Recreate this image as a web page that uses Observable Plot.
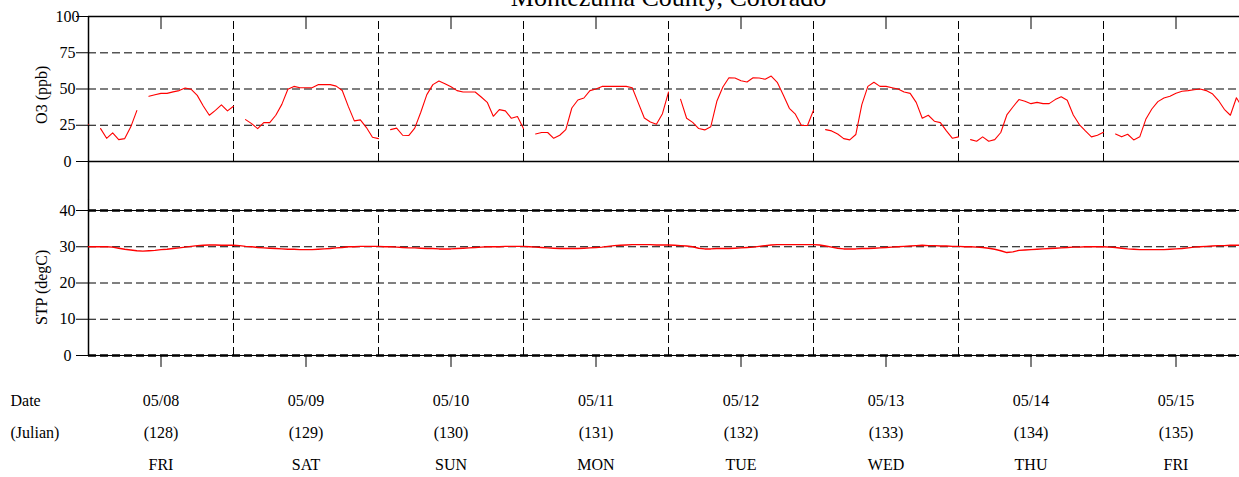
<!DOCTYPE html>
<html><head><meta charset="utf-8">
<script src="https://cdn.jsdelivr.net/npm/d3@7"></script>
<script src="https://cdn.jsdelivr.net/npm/@observablehq/plot@0.6"></script>
<style>
html,body{margin:0;padding:0;background:#fff;overflow:hidden;}
#chart{position:relative;width:1248px;height:477px;overflow:hidden;}
#p1,#p2{position:absolute;left:0;width:1248px;}
#p1{top:0;} #p2{top:200px;}
#chart svg{display:block;}
</style></head><body><div id="chart"><div id="p1"></div><div id="p2"></div></div>
<script>
const title = "Montezuma County, Colorado";
const dates = ["05/08","05/09","05/10","05/11","05/12","05/13","05/14","05/15"];
const julian = ["(128)","(129)","(130)","(131)","(132)","(133)","(134)","(135)"];
const weekdays = ["FRI","SAT","SUN","MON","TUE","WED","THU","FRI"];
const o3Ticks = [0,25,50,75,100];
const stpTicks = [0,10,20,30,40];

// hourly O3 (ppb), hour 0..23, null = missing
const o3_0508 = [25.7,null,22.7,16,19.7,15.1,15.8,23.9,35.1,null,45,46,47,47,48,48.9,50.7,49.8,45.6,38.3,31.9,35.3,39,34.9];
const o3_0509 = [38.1,null,28.9,26.1,22.7,26.8,26.8,31.9,39.4,49.8,51.8,50.9,50.9,50.9,53,53,53,52,49,38,28,28.7,23.4,16.7];
const o3_0510 = [15.8,null,22,23,18.1,17.9,23,34,46.1,53,55.5,53.7,51.6,48.9,47.9,47.9,47.9,44.5,40.8,31.2,35.8,34.9,29.8,31];
const o3_0511 = [22.7,null,19,20,20,16,18.1,22,36.9,42.4,43.8,48.9,50,51.8,51.8,51.8,51.8,51.8,50.9,40.4,30,27.3,25.7,33];
const o3_0512 = [47.9,null,42.9,29.8,27,22.7,21.8,24,41.5,51.4,57.8,57.6,55.7,54.8,57.8,57.6,56.7,58.9,54.6,45.9,36.7,32.6,24.8,24.8];
const o3_0513 = [35.3,null,22,21.1,19,15.8,14.9,18.6,39.2,51.8,54.6,51.8,51.8,50.9,50,47.9,47,40.8,29.8,31.9,27.8,26.8,21.1,16];
const o3_0514 = [17,null,15.1,14,17,14,15.1,20,32.1,37.6,42.7,41.5,39.9,40.8,39.9,39.9,42.7,44.7,42.2,32.1,25.5,21.1,17,18.1];
const o3_0515 = [20.2,null,19,17,18.8,14.9,17,29.1,36.2,41.3,43.8,45,47,48.4,48.9,49.5,50,48.9,46.8,42.2,36,31.9,44,37];

// hourly STP (degC)
const stp_0508 = [30,30,30,30,29.9,29.6,29.3,29.1,28.9,28.8,28.9,29,29.2,29.3,29.5,29.7,29.9,30.1,30.3,30.4,30.5,30.5,30.4,30.4];
const stp_0509 = [30.4,30.3,30.1,30,29.8,29.7,29.6,29.5,29.4,29.3,29.3,29.2,29.2,29.2,29.3,29.4,29.5,29.7,29.8,30,30,30.1,30.1,30.1];
const stp_0510 = [30.1,30,30,29.9,29.8,29.7,29.7,29.6,29.5,29.5,29.4,29.4,29.4,29.5,29.6,29.7,29.8,29.9,30,30,30,30.1,30.1,30.1];
const stp_0511 = [30.1,30,29.9,29.8,29.7,29.6,29.5,29.5,29.5,29.5,29.6,29.7,29.8,29.9,30.1,30.3,30.4,30.5,30.6,30.6,30.6,30.6,30.5,30.5];
const stp_0512 = [30.5,30.4,30.3,30.2,30,29.6,29.4,29.4,29.5,29.5,29.5,29.6,29.7,29.8,29.9,30.1,30.3,30.5,30.6,30.6,30.6,30.6,30.6,30.6];
const stp_0513 = [30.6,30.5,30.2,29.9,29.6,29.4,29.4,29.4,29.5,29.5,29.6,29.7,29.8,29.9,30,30.1,30.2,30.3,30.4,30.3,30.3,30.2,30.2,30.1];
const stp_0514 = [30.1,30,30,29.9,29.8,29.6,29.3,28.9,28.4,28.6,29,29.1,29.2,29.3,29.4,29.5,29.6,29.7,29.8,29.9,29.9,30,30,30];
const stp_0515 = [30,29.9,29.8,29.6,29.4,29.3,29.2,29.2,29.2,29.2,29.2,29.3,29.4,29.5,29.7,29.9,30,30.1,30.2,30.3,30.3,30.4,30.4,30.4];

const o3Days = [o3_0508,o3_0509,o3_0510,o3_0511,o3_0512,o3_0513,o3_0514,o3_0515];
const stpDays = [stp_0508,stp_0509,stp_0510,stp_0511,stp_0512,stp_0513,stp_0514,stp_0515];

function hourly(days){
  const out=[];
  days.forEach((arr,d)=>arr.forEach((v,h)=>out.push({t:d+h/24, v})));
  return out;
}
const dayIdx = d3.range(8);
const bounds = d3.range(1,8);
const noons = dayIdx.map(d=>d+0.5);
const font = "'Liberation Serif','Times New Roman',serif";
const style = {fontFamily: font, fontSize: "16px", background: "white", color: "black", overflow: "visible"};
const dash = "8,4";

const p1 = Plot.plot({
  width: 1248, height: 200, marginLeft: 88, marginRight: 0, marginTop: 16, marginBottom: 39,
  style,
  x: {domain: [0,8], axis: null},
  y: {domain: [0,100], axis: null},
  marks: [
    Plot.ruleY([50,75], {stroke: "#555", strokeWidth: 1.5, strokeDasharray: dash}),
    Plot.ruleY([25], {stroke: "black", strokeWidth: 1, strokeDasharray: dash}),
    Plot.ruleX(bounds, {y1: 0, y2: 100, stroke: "black", strokeWidth: 1, strokeDasharray: dash}),
    Plot.ruleY([0,100], {stroke: "black", strokeWidth: 1.5}),
    Plot.ruleX([0], {y1: 100, y2: -27, stroke: "black", strokeWidth: 1.5}),
    Plot.ruleX(noons, {y1: 100, y2: 91, stroke: "black", strokeWidth: 1}),
    Plot.axisY({ticks: o3Ticks, tickSize: 12, tickPadding: 9, textAnchor: "middle", label: null, fontSize: 16, stroke: "black"}),
    Plot.line(hourly(o3Days), {x: "t", y: "v", stroke: "#ff0000", strokeWidth: 1.1}),
    Plot.text(["O3 (ppb)"], {x: -0.324, y: 46, text: d=>d, rotate: -90, fontSize: 16}),
    Plot.text([title], {frameAnchor: "top", dy: -11, lineAnchor: "bottom", text: d=>d, fontSize: 26})
  ]
});
document.getElementById("p1").append(p1);

const p2 = Plot.plot({
  width: 1248, height: 277, marginLeft: 88, marginRight: 0, marginTop: 10, marginBottom: 122,
  style,
  x: {domain: [0,8], axis: null},
  y: {domain: [0,40], axis: null},
  marks: [
    Plot.ruleY([10,20,30], {stroke: "black", strokeWidth: 1, strokeDasharray: dash}),
    Plot.ruleX(bounds, {y1: 0, y2: 40, stroke: "black", strokeWidth: 1, strokeDasharray: dash}),
    Plot.ruleY([0,40], {stroke: "black", strokeWidth: 1}),
    Plot.ruleY([0,40], {stroke: "black", strokeWidth: 2.5, strokeDasharray: dash}),
    Plot.ruleX([0], {y1: 0, y2: 42.8, stroke: "black", strokeWidth: 1.5}),
    Plot.ruleX(noons, {y1: 0, y2: -3.3, stroke: "black", strokeWidth: 1}),
    Plot.axisY({ticks: stpTicks, tickSize: 12, tickPadding: 9, textAnchor: "middle", label: null, fontSize: 16, stroke: "black"}),
    Plot.line(hourly(stpDays), {x: "t", y: "v", stroke: "#ff0000", strokeWidth: 1.4}),
    Plot.text(["STP (degC)"], {x: -0.324, y: 18.8, text: d=>d, rotate: -90, fontSize: 16}),
    Plot.text(dayIdx, {x: d=>d+0.5, frameAnchor: "bottom", dy: 50, lineAnchor: "bottom", text: d=>dates[d], fontSize: 16}),
    Plot.text(dayIdx, {x: d=>d+0.5, frameAnchor: "bottom", dy: 82, lineAnchor: "bottom", text: d=>julian[d], fontSize: 16}),
    Plot.text(dayIdx, {x: d=>d+0.5, frameAnchor: "bottom", dy: 114, lineAnchor: "bottom", text: d=>weekdays[d], fontSize: 16}),
    Plot.text(["Date"], {x: -0.538, frameAnchor: "bottom", dy: 50, lineAnchor: "bottom", textAnchor: "start", text: d=>d, fontSize: 16}),
    Plot.text(["(Julian)"], {x: -0.538, frameAnchor: "bottom", dy: 82, lineAnchor: "bottom", textAnchor: "start", text: d=>d, fontSize: 16})
  ]
});
document.getElementById("p2").append(p2);
</script></body></html>
